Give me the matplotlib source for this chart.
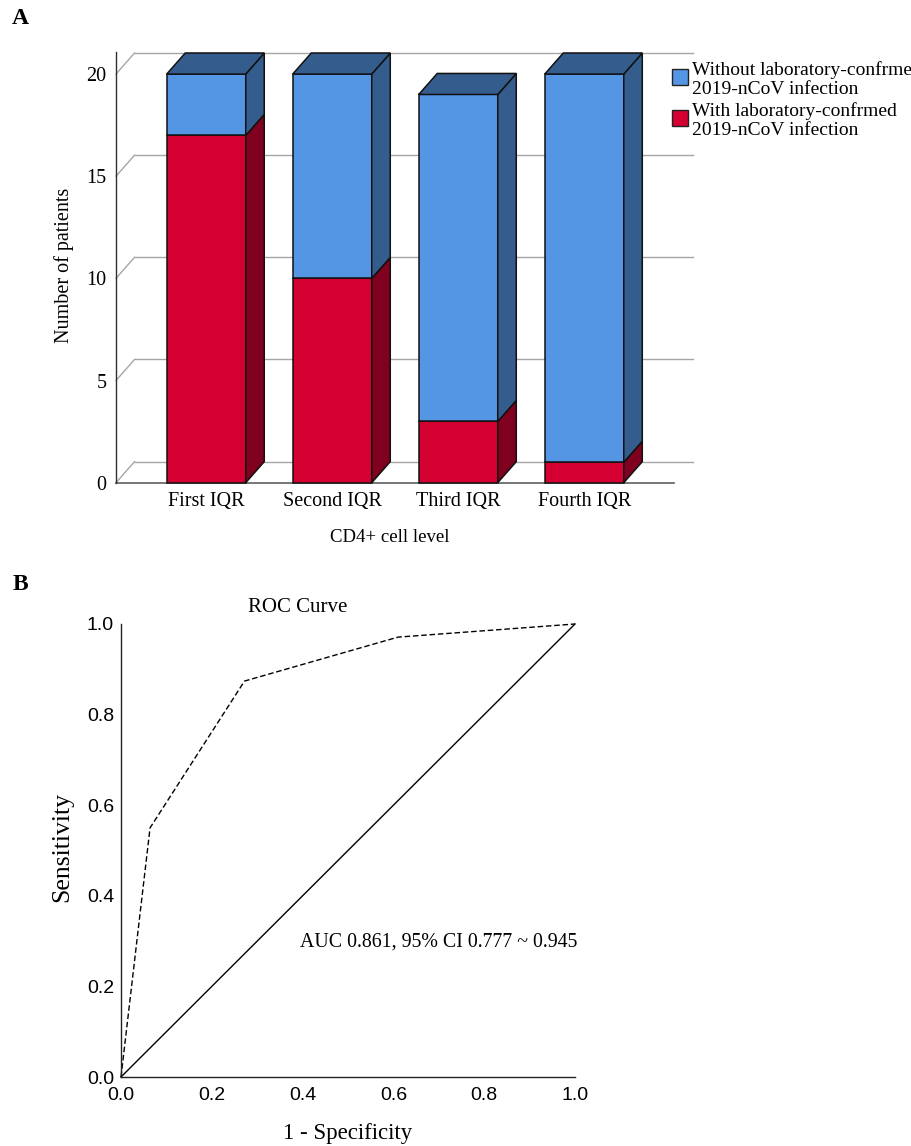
import matplotlib
matplotlib.use("Agg")
import matplotlib.pyplot as plt
from matplotlib.patches import Polygon, Rectangle

# ---------------- data ----------------
categories = ["First IQR", "Second IQR", "Third IQR", "Fourth IQR"]
with_infection = [17, 10, 3, 1]
without_infection = [3, 10, 16, 19]
legend_labels = ["Without laboratory-confrme\n2019-nCoV infection",
                 "With laboratory-confrmed\n2019-nCoV infection"]
y_ticks_a = [0, 5, 10, 15, 20]

roc_fpr = [0.0, 0.064, 0.272, 0.61, 1.0]
roc_tpr = [0.0, 0.550, 0.874, 0.971, 1.0]
roc_ticks = [0.0, 0.2, 0.4, 0.6, 0.8, 1.0]
auc_text = "AUC 0.861, 95% CI 0.777 ~ 0.945"

SERIF = ["Liberation Serif", "DejaVu Serif"]
SANS = ["Liberation Sans", "DejaVu Sans"]

BLUE = "#5596E4"
BLUE_D = "#345D8E"
RED = "#D50032"
RED_D = "#80001F"

W, H = 911, 1146
fig = plt.figure(figsize=(W / 100, H / 100), dpi=100)


def fx(px):
    return px / W


def fy(py):
    return 1 - py / H


# ---------------- Panel A ----------------
x0, x1 = -0.716, 3.863
y_top = 21.08
axA = fig.add_axes([fx(116), fy(482.7), fx(693) - fx(116), fy(52) - fy(482.7)])
axA.set_xlim(x0, x1)
axA.set_ylim(0, y_top)
for s in ["top", "right", "bottom"]:
    axA.spines[s].set_visible(False)
axA.spines["left"].set_color("#303030")
axA.spines["left"].set_linewidth(1.0)

bw = 0.627
dx = 0.147
dy = 1.03

# gridlines (3D back wall)
for v in y_ticks_a:
    axA.plot([x0 + dx, x1], [v + dy, v + dy], color="#A6A6A6", lw=1.0, zorder=1, clip_on=False)
    axA.plot([x0, x0 + dx], [v, v + dy], color="#A6A6A6", lw=1.0, zorder=1, clip_on=False)
axA.plot([x0, 3.713], [0, 0], color="#606060", lw=1.2, zorder=1, clip_on=False)

for i, (r, b) in enumerate(zip(with_infection, without_infection)):
    tot = r + b
    L, R = i - bw / 2, i + bw / 2
    kw = dict(edgecolor="#111111", linewidth=1.1, zorder=3, clip_on=False, joinstyle="miter")
    axA.add_patch(Rectangle((L, 0), bw, r, facecolor=RED, **kw))
    axA.add_patch(Rectangle((L, r), bw, b, facecolor=BLUE, **kw))
    axA.add_patch(Polygon([(R, 0), (R + dx, dy), (R + dx, r + dy), (R, r)], closed=True, facecolor=RED_D, **kw))
    axA.add_patch(Polygon([(R, r), (R + dx, r + dy), (R + dx, tot + dy), (R, tot)], closed=True, facecolor=BLUE_D, **kw))
    axA.add_patch(Polygon([(L, tot), (R, tot), (R + dx, tot + dy), (L + dx, tot + dy)], closed=True, facecolor=BLUE_D, **kw))

axA.set_yticks(y_ticks_a)
axA.set_yticklabels([str(v) for v in y_ticks_a], family=SERIF, fontsize=14.5)
axA.set_xticks(range(len(categories)))
axA.set_xticklabels(categories, family=SERIF, fontsize=14.5)
axA.tick_params(axis="both", length=0)
axA.tick_params(axis="y", pad=7)
axA.tick_params(axis="x", pad=7)
fig.text(fx(64), fy(265), "Number of patients", family=SERIF, fontsize=14.5,
         rotation=90, ha="center", va="center")
fig.text(fx(390), fy(538), "CD4+ cell level", family=SERIF, fontsize=13.5, ha="center", va="center")

# legend drawn manually
sq_y = [76.5, 117.5]
txt_y = [79.5, 120.5]
for (c, lab, sy, ty) in zip([BLUE, RED], legend_labels, sq_y, txt_y):
    fig.patches.append(Rectangle((fx(672), fy(sy + 8)), fx(16), fy(0) - fy(16),
                                 transform=fig.transFigure, facecolor=c,
                                 edgecolor="#222222", linewidth=1.0))
    fig.text(fx(692), fy(ty), lab, family=SERIF, fontsize=14, ha="left", va="center",
             linespacing=1.1)

fig.text(fx(20), fy(19), "A", family=SERIF, fontsize=17, fontweight="bold", ha="center", va="center")
fig.text(fx(20), fy(585), "B", family=SERIF, fontsize=17, fontweight="bold", ha="center", va="center")

# ---------------- Panel B ----------------
axB = fig.add_axes([fx(121), fy(1077), fx(575) - fx(121), fy(624) - fy(1077)])
axB.set_xlim(0, 1)
axB.set_ylim(0, 1)
for s in ["top", "right"]:
    axB.spines[s].set_visible(False)
for s in ["left", "bottom"]:
    axB.spines[s].set_linewidth(1.0)
    axB.spines[s].set_color("#222222")
axB.plot([0, 1], [0, 1], color="black", lw=1.0, clip_on=False)
axB.plot(roc_fpr, roc_tpr, color="black", lw=1.0, ls=(0, (4, 2)), clip_on=False)
axB.set_xticks(roc_ticks)
axB.set_yticks(roc_ticks)
axB.set_xticklabels([f"{v:.1f}" for v in roc_ticks], family=SANS, fontsize=14)
axB.set_yticklabels([f"{v:.1f}" for v in roc_ticks], family=SANS, fontsize=14)
axB.tick_params(axis="both", length=0)
axB.tick_params(axis="y", pad=5)
axB.tick_params(axis="x", pad=7)
axB.text(0.394, 0.298, auc_text, family=SERIF, fontsize=14.3, ha="left", va="center")

fig.text(fx(298), fy(607), "ROC Curve", family=SERIF, fontsize=15, ha="center", va="center")
fig.text(fx(62), fy(847), "Sensitivity", family=SERIF, fontsize=18.5, rotation=90, ha="center", va="center")
fig.text(fx(348), fy(1133), "1 - Specificity", family=SERIF, fontsize=16.5, ha="center", va="center")

fig.savefig("out.png", dpi=100)
